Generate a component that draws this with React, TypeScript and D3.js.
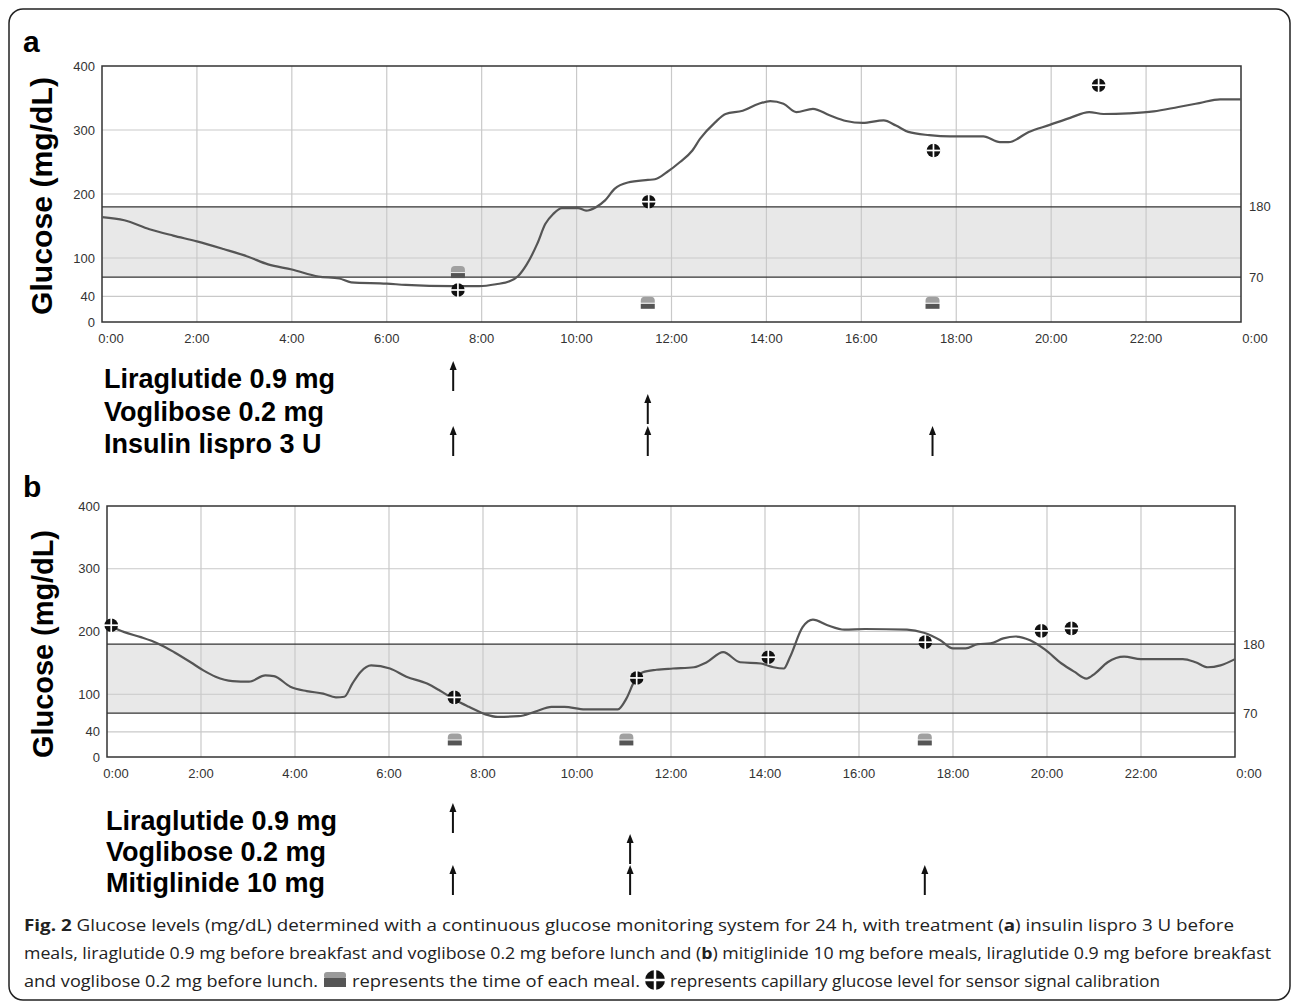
import React, { useRef, useEffect } from 'react';
import * as d3 from 'd3';

// time of day (h) and glucose (mg/dL)
const hoursA = [0, 0.47, 1.0, 1.5, 2.0, 2.56, 3.08, 3.5, 4.0, 4.56, 5.0, 5.25, 6.0, 6.4, 7.4, 7.95, 8.3, 8.6, 8.77, 8.95, 9.17, 9.34, 9.51, 9.69, 10.03, 10.2, 10.4, 10.6, 10.8, 11.08, 11.5, 11.65, 11.9, 12.18, 12.44, 12.6, 12.92, 13.14, 13.5, 13.84, 14.08, 14.36, 14.63, 14.98, 15.33, 15.68, 16.03, 16.47, 16.73, 16.99, 17.43, 17.87, 18.57, 18.92, 19.1, 19.53, 19.97, 20.4, 20.8, 21.1, 21.63, 22.16, 22.68, 23.12, 23.56, 24];
const glucoseA = [164, 159, 145, 135, 126, 114, 102, 90, 82, 71, 68, 62, 60, 58, 56, 56, 59, 64, 72, 90, 122, 153, 169, 178, 178, 174, 179, 190, 208, 218, 222, 223, 234, 250, 268, 286, 312, 325, 330, 341, 345, 341, 328, 333, 323, 314, 311, 315, 307, 297, 292, 290, 290, 281, 281, 297, 308, 319, 328, 325, 326, 329, 336, 342, 348, 348];

const hoursB = [0.03, 0.37, 0.72, 1.08, 1.43, 1.78, 2.05, 2.31, 2.67, 3.02, 3.37, 3.55, 3.9, 4.25, 4.6, 4.87, 5.05, 5.22, 5.4, 5.62, 6.02, 6.37, 6.81, 7.08, 7.43, 7.7, 8.05, 8.31, 8.76, 9.1, 9.46, 9.73, 10.17, 10.87, 11.05, 11.23, 11.4, 11.69, 12.04, 12.49, 12.76, 13.11, 13.47, 13.91, 14.18, 14.4, 14.53, 14.8, 15.02, 15.33, 15.69, 16.13, 17.02, 17.38, 17.73, 18.0, 18.27, 18.53, 18.8, 19.07, 19.33, 19.64, 19.96, 20.31, 20.58, 20.84, 21.02, 21.29, 21.64, 22.0, 22.89, 23.16, 23.42, 23.69, 24];
const glucoseB = [210, 199, 191, 181, 167, 151, 138, 128, 121, 120, 130, 129, 112, 105, 101, 95, 96, 117, 136, 146, 141, 128, 117, 106, 90, 80, 68, 64, 65, 72, 80, 80, 76, 76, 93, 122, 135, 139, 141, 143, 151, 167, 151, 149, 143, 141, 159, 207, 219, 210, 203, 204, 203, 198, 186, 173, 173, 180, 181, 189, 192, 186, 171, 149, 136, 125, 133, 151, 160, 156, 156, 151, 143, 146, 156];

// capillary calibration readings
const calibHoursA = [7.5, 11.52, 17.52, 21.0];
const calibValuesA = [50, 188, 268, 370];
const calibHoursB = [0.09, 7.39, 11.27, 14.07, 17.41, 19.88, 20.52];
const calibValuesB = [210, 95, 126, 159, 183, 201, 205];

// meal times
const mealHoursA = [7.5, 11.5, 17.5];
const mealValuesA = [78, 30, 30];
const mealHoursB = [7.4, 11.05, 17.4];
const mealValuesB = [28, 28, 28];

// drug administration
const drugsA = ['Liraglutide 0.9 mg', 'Voglibose 0.2 mg', 'Insulin lispro 3 U'];
const doseHoursA = [[7.4], [11.5], [7.4, 11.5, 17.5]];
const drugsB = ['Liraglutide 0.9 mg', 'Voglibose 0.2 mg', 'Mitiglinide 10 mg'];
const doseHoursB = [[7.36], [11.13], [7.36, 11.13, 17.4]];

const xTickHours = [0, 2, 4, 6, 8, 10, 12, 14, 16, 18, 20, 22, 24];
const xTickLabels = ['0:00', '2:00', '4:00', '6:00', '8:00', '10:00', '12:00', '14:00', '16:00', '18:00', '20:00', '22:00', '0:00'];
const yTicks = [0, 40, 100, 200, 300, 400];
const targetRange = [70, 180];

const captionLines = [
    [['Fig. 2', true], [' Glucose levels (mg/dL) determined with a continuous glucose monitoring system for 24 h, with treatment (', false], ['a', true], [') insulin lispro 3 U before', false]],
    [['meals, liraglutide 0.9 mg before breakfast and voglibose 0.2 mg before lunch and (', false], ['b', true], [') mitiglinide 10 mg before meals, liraglutide 0.9 mg before breakfast', false]],
];
const captionMeal = 'and voglibose 0.2 mg before lunch.';
const captionMeal2 = 'represents the time of each meal.';
const captionCalib = 'represents capillary glucose level for sensor signal calibration';

const BOLD = '"Liberation Sans", Arial, Helvetica, sans-serif';
const SANS = '"Open Sans", "Noto Sans", sans-serif';

function drawCalib(g, cx, cy, r = 6.8) {
    g.append('circle').attr('cx', cx).attr('cy', cy).attr('r', r).attr('fill', '#111');
    g.append('line').attr('x1', cx - r - 0.5).attr('x2', cx + r + 0.5).attr('y1', cy).attr('y2', cy)
        .attr('stroke', '#fff').attr('stroke-width', r / 4);
    g.append('line').attr('x1', cx).attr('x2', cx).attr('y1', cy - r - 0.5).attr('y2', cy + r + 0.5)
        .attr('stroke', '#fff').attr('stroke-width', r / 4);
}

function drawMeal(g, cx, cy) {
    g.append('path')
        .attr('d', `M${cx - 7},${cy} L${cx - 7},${cy - 2} Q${cx - 7},${cy - 6} ${cx - 3},${cy - 6} L${cx + 3},${cy - 6} Q${cx + 7},${cy - 6} ${cx + 7},${cy - 2} L${cx + 7},${cy} Z`)
        .attr('fill', '#a0a0a0');
    g.append('rect').attr('x', cx - 7).attr('y', cy + 1).attr('width', 14).attr('height', 5).attr('fill', '#555');
}

function drawArrow(g, x, yTop, yBot) {
    g.append('line').attr('x1', x).attr('x2', x).attr('y1', yTop + 6).attr('y2', yBot)
        .attr('stroke', '#111').attr('stroke-width', 2);
    g.append('path').attr('d', `M${x},${yTop} L${x - 3.5},${yTop + 9} L${x + 3.5},${yTop + 9} Z`).attr('fill', '#111');
}

function drawPanel(svg, p) {
    const x = d3.scaleLinear().domain([0, 24]).range([p.left, p.right]);
    const y = d3.scaleLinear().domain([0, 400]).range([p.bottom, p.top]);
    const g = svg.append('g');

    g.append('text').attr('x', 23).attr('y', p.letterY)
        .style('font-family', BOLD).style('font-weight', 'bold').style('font-size', '30px')
        .text(p.letter);

    g.append('rect')
        .attr('x', p.left).attr('y', y(targetRange[1]))
        .attr('width', p.right - p.left).attr('height', y(targetRange[0]) - y(targetRange[1]))
        .attr('fill', '#e8e8e8');

    g.selectAll('.hgrid').data([40, 100, 200, 300]).enter().append('line')
        .attr('x1', p.left).attr('x2', p.right).attr('y1', d => y(d)).attr('y2', d => y(d))
        .attr('stroke', '#c9c9c9').attr('stroke-width', 1.2);
    g.selectAll('.vgrid').data(xTickHours.slice(1, -1)).enter().append('line')
        .attr('x1', d => x(d)).attr('x2', d => x(d)).attr('y1', p.top).attr('y2', p.bottom)
        .attr('stroke', '#c9c9c9').attr('stroke-width', 1.2);

    g.selectAll('.range').data(targetRange).enter().append('line')
        .attr('x1', p.left).attr('x2', p.right).attr('y1', d => y(d)).attr('y2', d => y(d))
        .attr('stroke', '#333').attr('stroke-width', 1.3);

    g.append('rect').attr('x', p.left).attr('y', p.top)
        .attr('width', p.right - p.left).attr('height', p.bottom - p.top)
        .attr('fill', 'none').attr('stroke', '#333').attr('stroke-width', 1.5);

    const line = d3.line().x(d => x(d[0])).y(d => y(d[1])).curve(d3.curveMonotoneX);
    g.append('path').datum(p.hours.map((h, i) => [h, p.values[i]]))
        .attr('d', line).attr('fill', 'none').attr('stroke', '#555').attr('stroke-width', 2.2);

    p.mealHours.forEach((h, i) => drawMeal(g, x(h), y(p.mealValues[i])));
    p.calibHours.forEach((h, i) => drawCalib(g, x(h), y(p.calibValues[i])));

    g.selectAll('.ylab').data(yTicks).enter().append('text')
        .attr('x', p.left - 7).attr('y', d => y(d)).attr('dy', '0.35em')
        .attr('text-anchor', 'end')
        .style('font-family', BOLD).style('font-size', '13px').style('fill', '#333')
        .text(d => d);
    g.selectAll('.rlab').data(targetRange).enter().append('text')
        .attr('x', p.right + 8).attr('y', d => y(d)).attr('dy', '0.35em')
        .style('font-family', BOLD).style('font-size', '13px').style('fill', '#333')
        .text(d => d);
    g.selectAll('.xlab').data(xTickHours).enter().append('text')
        .attr('x', (d, i) => x(d) + (i === 0 ? 9 : i === xTickHours.length - 1 ? 14 : 0))
        .attr('y', p.bottom + 21)
        .attr('text-anchor', 'middle')
        .style('font-family', BOLD).style('font-size', '13px').style('fill', '#333')
        .text((d, i) => xTickLabels[i]);

    g.append('text')
        .attr('transform', `translate(${p.titleX},${p.titleY}) rotate(-90)`)
        .attr('text-anchor', 'middle')
        .attr('textLength', p.titleLen).attr('lengthAdjust', 'spacingAndGlyphs')
        .style('font-family', BOLD).style('font-weight', 'bold').style('font-size', '29px')
        .text('Glucose (mg/dL)');

    p.drugs.forEach((name, r) => {
        const base = p.drugBase[r];
        g.append('text').attr('x', p.drugX).attr('y', base)
            .style('font-family', BOLD).style('font-weight', 'bold').style('font-size', '27px')
            .text(name);
        p.doseHours[r].forEach(h => drawArrow(g, x(h), base - 27, base + 3));
    });
}

export default function App() {
    const svgRef = useRef(null);

    useEffect(() => {
        const svg = d3.select(svgRef.current);
        svg.selectAll('*').remove();

        svg.append('rect').attr('x', 9).attr('y', 9).attr('width', 1281).attr('height', 991)
            .attr('rx', 14).attr('fill', '#fff').attr('stroke', '#222').attr('stroke-width', 1.5);

        drawPanel(svg, {
            letter: 'a', letterY: 52, left: 102, right: 1241, top: 66, bottom: 322,
            hours: hoursA, values: glucoseA, calibHours: calibHoursA, calibValues: calibValuesA,
            mealHours: mealHoursA, mealValues: mealValuesA,
            titleX: 52, titleY: 196, titleLen: 238,
            drugs: drugsA, doseHours: doseHoursA, drugBase: [388, 421, 453], drugX: 104,
        });
        drawPanel(svg, {
            letter: 'b', letterY: 497, left: 107, right: 1235, top: 506, bottom: 757,
            hours: hoursB, values: glucoseB, calibHours: calibHoursB, calibValues: calibValuesB,
            mealHours: mealHoursB, mealValues: mealValuesB,
            titleX: 53, titleY: 644, titleLen: 228,
            drugs: drugsB, doseHours: doseHoursB, drugBase: [830, 861, 892], drugX: 106,
        });

        // caption
        const lineEnds = [1234, 1271];
        captionLines.forEach((parts, i) => {
            const t = svg.append('text').attr('x', 24).attr('y', 931 + i * 28)
                .attr('textLength', lineEnds[i] - 24).attr('lengthAdjust', 'spacingAndGlyphs')
                .style('font-family', SANS).style('font-size', '16px').style('fill', '#222');
            parts.forEach(([s, b]) => t.append('tspan').style('font-weight', b ? 'bold' : 'normal').text(s));
        });
        const y3 = 987;
        const cap = (x, x2, s) => svg.append('text').attr('x', x).attr('y', y3)
            .attr('textLength', x2 - x).attr('lengthAdjust', 'spacingAndGlyphs')
            .style('font-family', SANS).style('font-size', '16px').style('fill', '#222').text(s);
        cap(24, 318, captionMeal);
        svg.append('rect').attr('x', 324).attr('y', 972).attr('width', 22).attr('height', 7).attr('rx', 3).attr('fill', '#9a9a9a');
        svg.append('rect').attr('x', 324).attr('y', 978).attr('width', 22).attr('height', 9).attr('fill', '#555');
        cap(352, 640, captionMeal2);
        drawCalib(svg, 655, 980, 10);
        cap(670, 1160, captionCalib);
    }, []);

    return (
        <svg ref={svgRef} width={1295} height={1006}
            style={{ position: 'absolute', left: 0, top: 0, background: '#fff' }}></svg>
    );
}
